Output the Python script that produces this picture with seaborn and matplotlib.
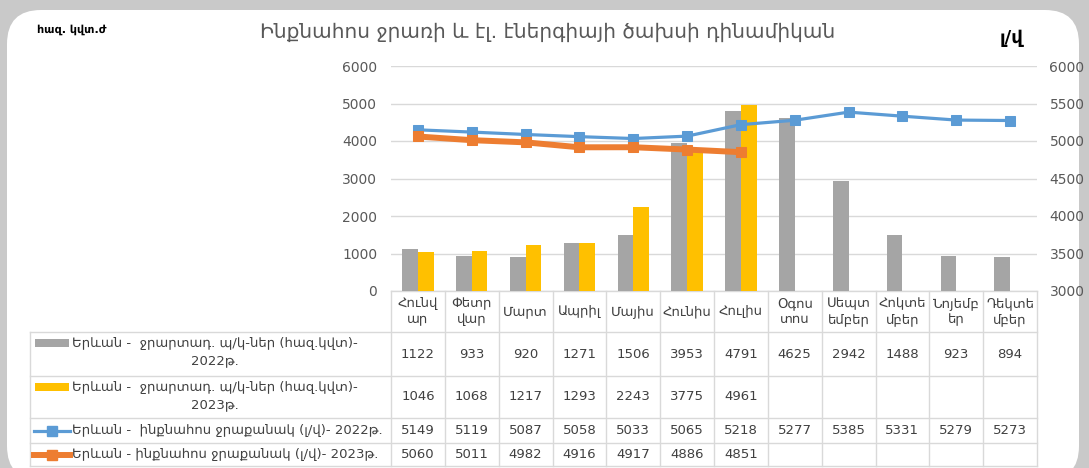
import numpy as np
import pandas as pd
import matplotlib.pyplot as plt
import seaborn as sns
from matplotlib.patches import FancyBboxPatch, Rectangle
from matplotlib.lines import Line2D

## DATA
months = ["Հունվար", "Փետրվար", "Մարտ", "Ապրիլ", "Մայիս", "Հունիս", "Հուլիս",
          "Օգոստոս", "Սեպտեմբեր", "Հոկտեմբեր", "Նոյեմբեր", "Դեկտեմբեր"]
month_hdr = ["Հունվ\nար", "Փետր\nվար", "Մարտ", "Ապրիլ", "Մայիս", "Հունիս", "Հուլիս",
             "Օգոս\nտոս", "Սեպտ\nեմբեր", "Հոկտե\nմբեր", "Նոյեմբ\nեր", "Դեկտե\nմբեր"]
power_2022 = [1122, 933, 920, 1271, 1506, 3953, 4791, 4625, 2942, 1488, 923, 894]
power_2023 = [1046, 1068, 1217, 1293, 2243, 3775, 4961]
flow_2022 = [5149, 5119, 5087, 5058, 5033, 5065, 5218, 5277, 5385, 5331, 5279, 5273]
flow_2023 = [5060, 5011, 4982, 4916, 4917, 4886, 4851]

series_names = ["Երևան -  ջրարտադ. պ/կ-ներ (հազ.կվտ)-\n2022թ.",
                "Երևան -  ջրարտադ. պ/կ-ներ (հազ.կվտ)-\n2023թ.",
                "Երևան -  ինքնահոս ջրաքանակ (լ/վ)- 2022թ.",
                "Երևան - ինքնահոս ջրաքանակ (լ/վ)- 2023թ."]
title = "Ինքնահոս ջրառի և էլ. էներգիայի ծախսի դինամիկան"

GREY, YELLOW, BLUE, ORANGE = "#a5a5a5", "#ffc000", "#5b9bd5", "#ed7d31"
TXT = "#595959"
LINE = "#d9d9d9"

# long table for seaborn
df = pd.DataFrame({
    "month": months * 2,
    "value": power_2022 + power_2023 + [np.nan] * (12 - len(power_2023)),
    "year": ["2022"] * 12 + ["2023"] * 12,
})

W, H = 1089, 468
fig = plt.figure(figsize=(W / 100, H / 100), dpi=100, facecolor="#c9c9c9")

# background panel + table live in a pixel-coordinate overlay
bg = fig.add_axes([0, 0, 1, 1])
bg.set_xlim(0, W)
bg.set_ylim(H, 0)
bg.axis("off")
bg.add_patch(FancyBboxPatch((7, 10), 1072, 470, boxstyle="round,pad=0,rounding_size=34",
                            fc="white", ec="none"))

# plot area geometry (pixels)
px_left, px_right, px_top, px_bot = 391, 1037, 66, 291
ax = fig.add_axes([px_left / W, 1 - px_bot / H, (px_right - px_left) / W, (px_bot - px_top) / H])
ax.patch.set_alpha(0)

sns.barplot(data=df, x="month", y="value", hue="year", order=months,
            palette=[GREY, YELLOW], width=0.58, saturation=1, legend=False, ax=ax)
ax.set_ylim(0, 6000)
ax.set_yticks(range(0, 6001, 1000))
ax.set_xlim(-0.5, 11.5)
ax.set_xticks([])
ax.set_xlabel("")
ax.set_ylabel("")
ax.yaxis.grid(True, color=LINE, lw=1)
ax.set_axisbelow(True)
ax.tick_params(axis="y", length=0, pad=10, labelsize=10, labelcolor=TXT)
for s in ax.spines.values():
    s.set_visible(False)

ax2 = ax.twinx()
sns.lineplot(x=np.arange(len(flow_2022)), y=flow_2022, ax=ax2, color=BLUE, lw=2.3,
             marker="s", markersize=6.5, markeredgecolor=BLUE)
sns.lineplot(x=np.arange(len(flow_2023)), y=flow_2023, ax=ax2, color=ORANGE, lw=4.3,
             marker="s", markersize=7.5, markeredgecolor=ORANGE)
ax2.set_ylim(3000, 6000)
ax2.set_yticks(range(3000, 6001, 500))
ax2.set_xlim(-0.5, 11.5)
ax2.set_ylabel("")
ax2.tick_params(axis="y", length=0, pad=9, labelsize=10, labelcolor=TXT)
for s in ax2.spines.values():
    s.set_visible(False)

# titles
fig.text(548 / W, 1 - 32 / H, title, ha="center", va="center", fontsize=14.5, color=TXT)
fig.text(37 / W, 1 - 30 / H, "հազ. կվտ.ժ", ha="left", va="center", fontsize=8,
         fontweight="bold", color="black")
fig.text(1012 / W, 1 - 38 / H, "լ/վ", ha="center", va="center", fontsize=13,
         fontweight="bold", color="black")

# data table
rows_y = [px_bot, 332, 376, 418, 443, 466]
lab_left = 30
col_w = (px_right - px_left) / 12
cols_x = [px_left + i * col_w for i in range(13)]

bg.plot([px_left, px_right], [rows_y[0]] * 2, color=LINE, lw=1)
for y in rows_y[1:]:
    bg.plot([lab_left, px_right], [y, y], color=LINE, lw=1)
bg.plot([lab_left, lab_left], [rows_y[1], rows_y[-1]], color=LINE, lw=1)
for x in cols_x:
    bg.plot([x, x], [rows_y[0], rows_y[-1]], color=LINE, lw=1)

TT = "#404040"
for i, m in enumerate(month_hdr):
    cx = (cols_x[i] + cols_x[i + 1]) / 2
    bg.text(cx, (rows_y[0] + rows_y[1]) / 2, m, ha="center", va="center",
            fontsize=9.5, color=TT, linespacing=1.3)

table_rows = [power_2022, power_2023, flow_2022, flow_2023]
for r, vals in enumerate(table_rows):
    cy = (rows_y[r + 1] + rows_y[r + 2]) / 2
    for i, v in enumerate(vals):
        cx = (cols_x[i] + cols_x[i + 1]) / 2
        bg.text(cx, cy, str(v), ha="center", va="center", fontsize=9.5, color=TT)

# legend keys + series names
key_x0, key_x1 = 34, 70
for r, name in enumerate(series_names):
    cy = (rows_y[r + 1] + rows_y[r + 2]) / 2
    if r < 2:
        first_y = rows_y[r + 1] + 11
        bg.add_patch(Rectangle((key_x0 + 1, first_y - 4), key_x1 - key_x0 - 2, 8,
                               fc=[GREY, YELLOW][r], ec="none"))
        bg.text(72, first_y - 6, name, ha="left", va="top", fontsize=9.5, color=TT,
                multialignment="center", linespacing=1.45)
    else:
        c, lw, ms = [(BLUE, 2.3, 6.5), (ORANGE, 4.3, 7.5)][r - 2]
        bg.add_line(Line2D([key_x0, key_x1], [cy, cy], color=c, lw=lw))
        bg.add_line(Line2D([(key_x0 + key_x1) / 2], [cy], color=c, marker="s",
                           markersize=ms, markeredgecolor=c))
        bg.text(72, cy, name, ha="left", va="center", fontsize=9.5, color=TT)

fig.savefig("out.png", dpi=100, facecolor=fig.get_facecolor())
